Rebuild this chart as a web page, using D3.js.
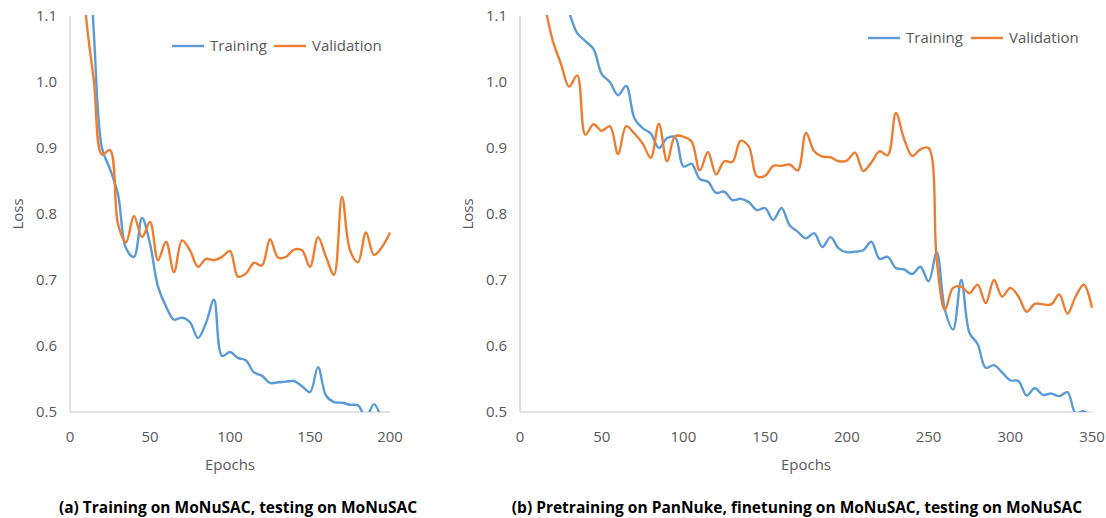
<!DOCTYPE html>
<meta charset="utf-8">
<style>
body { margin: 0; background: #fff; }
text { font-family: "Open Sans", sans-serif; }
.tick-label, .axis-title, .legend text { fill: #595959; font-size: 15px; }
.caption { fill: #000; font-size: 15.5px; font-weight: bold; }
.axis-line { stroke: #d9d9d9; stroke-width: 1.5px; }
.series { fill: none; stroke-width: 2.4px; }
</style>
<body>
<svg id="chart" width="1106" height="518"></svg>
<script src="https://cdn.jsdelivr.net/npm/d3@7"></script>
<script>

// ---- data (one point every 5 epochs) ----
var leftEpochs = d3.range(0, 201, 5);
var leftTraining = [1.75, 1.5, 1.3, 1.07, 0.9, 0.868, 0.83, 0.748, 0.735, 0.794,
  0.755, 0.69, 0.66, 0.64, 0.643, 0.636, 0.612, 0.635, 0.67, 0.585,
  0.591, 0.582, 0.578, 0.56, 0.555, 0.544, 0.545, 0.546, 0.547, 0.539,
  0.53, 0.568, 0.525, 0.515, 0.514, 0.511, 0.51, 0.492, 0.512, 0.49, 0.47];
var leftValidation = [1.6, 1.3, 1.1, 1.0, 0.89, 0.897, 0.785, 0.757, 0.797, 0.765,
  0.788, 0.73, 0.758, 0.712, 0.76, 0.745, 0.72, 0.732, 0.73, 0.735,
  0.744, 0.705, 0.71, 0.726, 0.722, 0.762, 0.734, 0.735, 0.746, 0.745,
  0.72, 0.765, 0.735, 0.708, 0.826, 0.745, 0.727, 0.772, 0.738, 0.75, 0.772];

var rightEpochs = d3.range(0, 351, 5);
var rightTraining = [1.4, 1.33, 1.27, 1.22, 1.17, 1.13, 1.105, 1.074, 1.062, 1.05,
  1.012, 1.0, 0.98, 0.994, 0.945, 0.93, 0.922, 0.9, 0.915, 0.916,
  0.872, 0.876, 0.853, 0.849, 0.832, 0.834, 0.821, 0.823, 0.818, 0.806,
  0.809, 0.791, 0.809, 0.783, 0.773, 0.763, 0.771, 0.75, 0.765, 0.748,
  0.742, 0.743, 0.745, 0.758, 0.732, 0.735, 0.718, 0.716, 0.709, 0.72,
  0.698, 0.742, 0.655, 0.625, 0.7, 0.62, 0.603, 0.567, 0.571, 0.56,
  0.548, 0.547, 0.525, 0.536, 0.526, 0.528, 0.524, 0.53, 0.498, 0.501, 0.49];
var rightValidation = [1.45, 1.3, 1.2, 1.12, 1.063, 1.028, 0.993, 1.01, 0.92, 0.936,
  0.926, 0.933, 0.891, 0.933, 0.922, 0.907, 0.885, 0.937, 0.88, 0.918,
  0.917, 0.91, 0.866, 0.894, 0.86, 0.88, 0.879, 0.911, 0.902, 0.857,
  0.858, 0.873, 0.873, 0.875, 0.866, 0.923, 0.895, 0.887, 0.886, 0.88,
  0.881, 0.893, 0.865, 0.878, 0.895, 0.889, 0.953, 0.914, 0.888, 0.898,
  0.9, 0.73, 0.655, 0.688, 0.69, 0.68, 0.693, 0.665, 0.7, 0.675,
  0.688, 0.675, 0.652, 0.664, 0.663, 0.663, 0.678, 0.649, 0.675, 0.693, 0.658];

var yTicks = [0.5, 0.6, 0.7, 0.8, 0.9, 1.0, 1.1];
var leftXTicks = [0, 50, 100, 150, 200];
var rightXTicks = [0, 50, 100, 150, 200, 250, 300, 350];
var seriesNames = ["Training", "Validation"];
var seriesColors = ["#5b9bd5", "#ed7d31"];

var svg = d3.select("#chart");

function drawPanel(p) {
  var x = d3.scaleLinear().domain([0, p.xMax]).range([p.left, p.right]);
  var y = d3.scaleLinear().domain([0.5, 1.1]).range([412, 16]);
  var g = svg.append("g");

  var clipId = "clip-" + p.id;
  g.append("clipPath").attr("id", clipId)
    .append("rect")
    .attr("x", p.left).attr("y", y(1.1) - 1)
    .attr("width", p.right - p.left + 2)
    .attr("height", y(0.5) - y(1.1) + 1);

  // axis lines (Excel style, no tick marks)
  g.append("line").attr("class", "axis-line")
    .attr("x1", p.left).attr("x2", p.left).attr("y1", y(1.1)).attr("y2", y(0.5));
  g.append("line").attr("class", "axis-line")
    .attr("x1", p.left).attr("x2", p.right).attr("y1", y(0.5)).attr("y2", y(0.5));

  g.selectAll(".ytick").data(yTicks).enter().append("text")
    .attr("class", "tick-label")
    .attr("x", p.left - 13)
    .attr("y", function(d) { return y(d); })
    .attr("dy", "0.35em")
    .attr("text-anchor", "end")
    .text(function(d) { return d3.format(".1f")(d); });

  g.selectAll(".xtick").data(p.xTicks).enter().append("text")
    .attr("class", "tick-label")
    .attr("x", function(d) { return x(d); })
    .attr("y", 442)
    .attr("text-anchor", "middle")
    .text(function(d) { return d; });

  g.append("text").attr("class", "axis-title")
    .attr("x", (p.left + p.right) / 2).attr("y", 470)
    .attr("text-anchor", "middle").text("Epochs");
  g.append("text").attr("class", "axis-title")
    .attr("transform", "translate(" + (p.left - 47) + ",214) rotate(-90)")
    .attr("text-anchor", "middle").text("Loss");

  var line = d3.line()
    .x(function(d) { return x(d[0]); })
    .y(function(d) { return y(d[1]); })
    .curve(d3.curveCatmullRom.alpha(0.5));

  var plot = g.append("g").attr("clip-path", "url(#" + clipId + ")");
  [p.training, p.validation].forEach(function(vals, i) {
    plot.append("path").attr("class", "series")
      .attr("stroke", seriesColors[i])
      .attr("d", line(p.epochs.map(function(e, j) { return [e, vals[j]]; })));
  });

  // legend
  var lg = g.append("g").attr("class", "legend");
  seriesNames.forEach(function(name, i) {
    var lx = p.legend[i];
    lg.append("line").attr("x1", lx).attr("x2", lx + 32)
      .attr("y1", p.legendY).attr("y2", p.legendY)
      .attr("stroke", seriesColors[i]).attr("stroke-width", 2.4);
    lg.append("text").attr("x", lx + 38).attr("y", p.legendY).attr("dy", "0.35em")
      .text(name);
  });

  g.append("text").attr("class", "caption")
    .attr("x", p.captionX).attr("y", 513)
    .attr("text-anchor", "middle").text(p.caption);
}

drawPanel({
  id: "a", left: 70, right: 390, xMax: 200, xTicks: leftXTicks,
  epochs: leftEpochs, training: leftTraining, validation: leftValidation,
  legend: [172, 274], legendY: 46, captionX: 238,
  caption: "(a) Training on MoNuSAC, testing on MoNuSAC"
});

drawPanel({
  id: "b", left: 520, right: 1092, xMax: 350, xTicks: rightXTicks,
  epochs: rightEpochs, training: rightTraining, validation: rightValidation,
  legend: [868, 971], legendY: 38, captionX: 797,
  caption: "(b) Pretraining on PanNuke, finetuning on MoNuSAC, testing on MoNuSAC"
});

</script>
</body>
